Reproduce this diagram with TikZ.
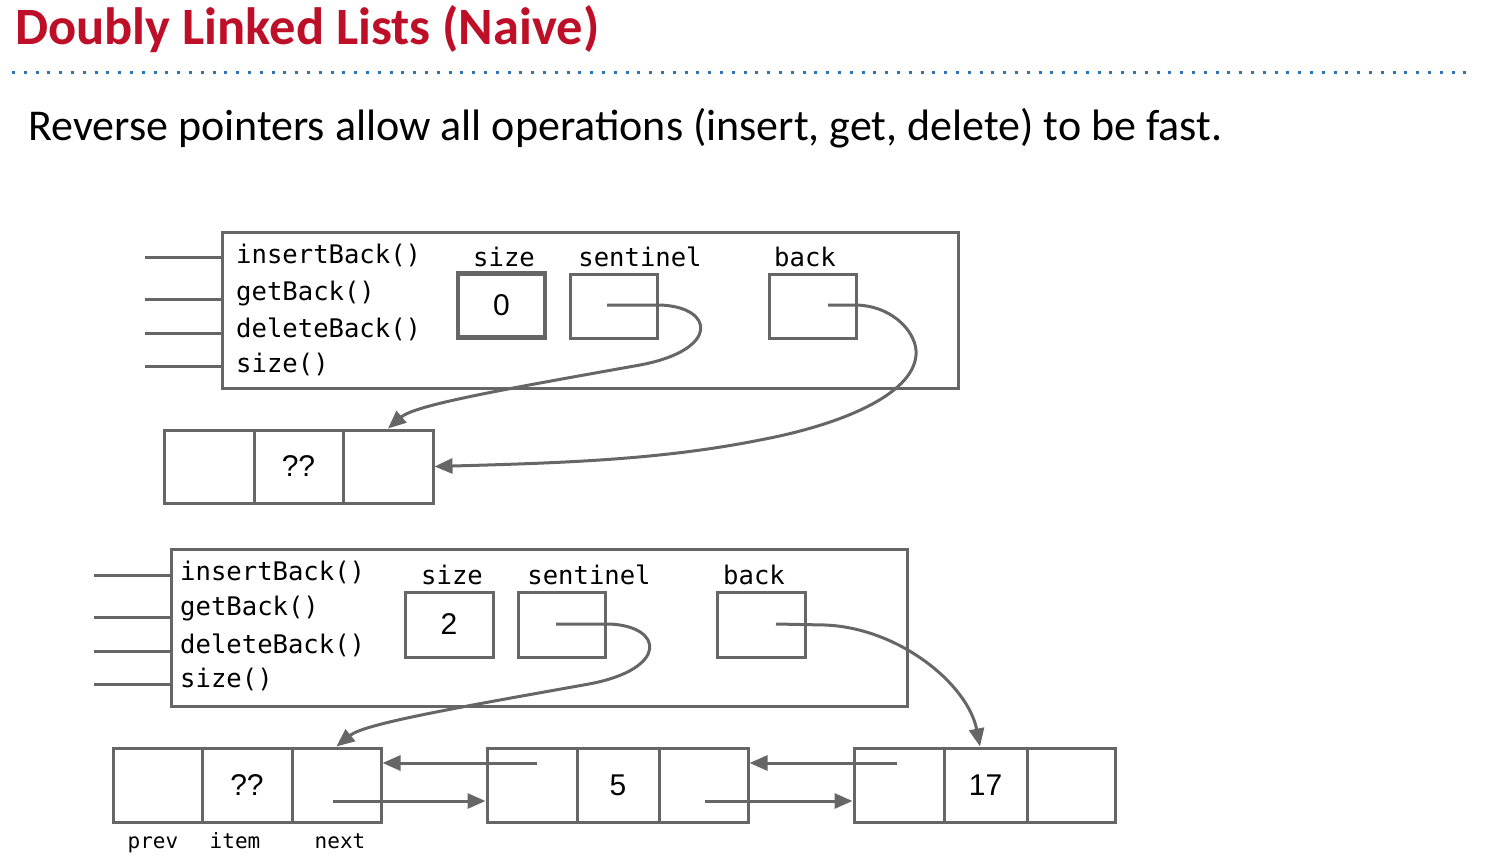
\documentclass[tikz,border=0pt]{standalone}
\usepackage{fontspec}
\setmainfont{Carlito}
\newfontfamily\monofont{DejaVu Sans Mono}
\newfontfamily\arialfont{Liberation Sans}
\usetikzlibrary{arrows.meta}
\definecolor{gr}{HTML}{666666}
\definecolor{titlered}{RGB}{190,15,40}
\definecolor{dotblue}{RGB}{46,117,182}
\tikzset{
  outerbox/.style={draw=gr, line width=3pt, inner sep=0pt},
  fieldbox/.style={draw=gr, line width=3pt, inner sep=0pt, minimum width=87pt, minimum height=64pt,
    font=\arialfont\fontsize{30}{30}\selectfont},
  cell/.style={draw=gr, line width=3pt, inner sep=0pt, minimum height=73pt,
    font=\arialfont\fontsize{30}{30}\selectfont},
  mono/.style={font=\monofont\fontsize{25.6}{25.6}\selectfont, inner sep=0pt, text=black},
  smallmono/.style={font=\monofont\fontsize{21}{21}\selectfont, inner sep=0pt, text=black},
  stub/.style={draw=gr, line width=3pt},
  ptr/.style={draw=gr, line width=3pt, -{Triangle[length=18pt,width=15pt]}},
}
\begin{document}
\begin{tikzpicture}[x=1pt,y=-1pt]
\useasboundingbox (0,0) rectangle (1486,862);

% title and subtitle
\node[anchor=base west, inner sep=0pt, text=titlered, font=\bfseries\fontsize{52.5}{52.5}\selectfont] (title) at (15,44) {Doubly Linked Lists (Naive)};
\coordinate (dl) at (12,72);
\coordinate (dr) at (1472,72);
\draw[dotblue, line width=3pt, dash pattern=on 3pt off 8.8pt] (dl) -- (dr);
\node[anchor=base west, inner sep=0pt, font=\fontsize{44}{44}\selectfont] (sub) at (28,140) {Reverse pointers allow all operations (insert, get, delete) to be fast.};

% ===== top diagram =====
\node[outerbox, minimum width=736pt, minimum height=156pt] (obj1) at (590,310) {};
\foreach \y [count=\i] in {257,299,333,366} {
  \coordinate (s1\i) at (145,\y);
  \draw[stub] (s1\i) -- (obj1.west |- s1\i);
}
\node[mono, anchor=base west] (m11) at (236,263) {insertBack()};
\node[mono, anchor=base west] (m12) at (236,300) {getBack()};
\node[mono, anchor=base west] (m13) at (236,337) {deleteBack()};
\node[mono, anchor=base west] (m14) at (236,372) {size()};
\node[mono, anchor=base] (ls1) at (504,266) {size};
\node[mono, anchor=base] (lt1) at (640,266) {sentinel};
\node[mono, anchor=base] (lb1) at (805,266) {back};
\node[fieldbox, line width=4.5pt] (size1) at (501.5,305.5) {0};
\node[fieldbox] (sent1) at (613.5,306) {};
\node[fieldbox] (back1) at (812.5,306) {};

\node[cell, minimum width=90pt] (t1) at (209,466.5) {};
\node[cell, minimum width=89pt] (t2) at (298.5,466.5) {??};
\node[cell, minimum width=90pt] (t3) at (388,466.5) {};

\coordinate (sp1) at (607,305);
\coordinate (bp1) at (828,305);
\draw[ptr] (sp1) -- (660,305) .. controls (715,307) and (720,350) .. (640,365)
  .. controls (500,390) and (415,405) .. (t3.north);
\draw[ptr] (bp1) -- (856,305) .. controls (895,306) and (918,335) .. (916,355)
  .. controls (913,395) and (840,425) .. (760,440)
  .. controls (660,460) and (560,463) .. (t3.east);

% ===== bottom diagram =====
\node[outerbox, minimum width=736pt, minimum height=157pt] (obj2) at (539,627.5) {};
\foreach \y [count=\i] in {575,617,651,684} {
  \coordinate (s2\i) at (94,\y);
  \draw[stub] (s2\i) -- (obj2.west |- s2\i);
}
\node[mono, anchor=base west] (m21) at (180,580) {insertBack()};
\node[mono, anchor=base west] (m22) at (180,615) {getBack()};
\node[mono, anchor=base west] (m23) at (180,653) {deleteBack()};
\node[mono, anchor=base west] (m24) at (180,687) {size()};
\node[mono, anchor=base] (ls2) at (452,584) {size};
\node[mono, anchor=base] (lt2) at (589,584) {sentinel};
\node[mono, anchor=base] (lb2) at (754,584) {back};
\node[fieldbox, minimum width=88pt, minimum height=65pt] (size2) at (449,624.5) {2};
\node[fieldbox, minimum height=65pt] (sent2) at (561.5,624.5) {};
\node[fieldbox, minimum width=88pt, minimum height=65pt] (back2) at (761,624.5) {};

\node[cell, minimum width=89pt, minimum height=74pt] (a1) at (157.5,785) {};
\node[cell, minimum width=90pt, minimum height=74pt] (a2) at (247,785) {??};
\node[cell, minimum width=89pt, minimum height=74pt] (a3) at (336.5,785) {};
\node[cell, minimum width=90pt, minimum height=74pt] (b1) at (532,785) {};
\node[cell, minimum width=82pt, minimum height=74pt] (b2) at (618,785) {5};
\node[cell, minimum width=89pt, minimum height=74pt] (b3) at (703.5,785) {};
\node[cell, minimum width=90pt, minimum height=74pt] (c1) at (899,785) {};
\node[cell, minimum width=83pt, minimum height=74pt] (c2) at (985.5,785) {17};
\node[cell, minimum width=88pt, minimum height=74pt] (c3) at (1071,785) {};

\node[smallmono, anchor=base] (lprev) at (153,848) {prev};
\node[smallmono, anchor=base] (litem) at (235,848) {item};
\node[smallmono, anchor=base] (lnext) at (340,848) {next};

\coordinate (sp2) at (556,624);
\coordinate (bp2) at (776,624);
\draw[ptr] (sp2) -- (609,624) .. controls (664,626) and (669,669) .. (589,684)
  .. controls (449,709) and (364,724) .. (a3.north);
\draw[ptr] (bp2) -- (825,625) .. controls (900,628) and (968,685) .. (c2.north -| 980,0);

\coordinate (bprev) at (537,763);
\coordinate (anext) at (333,801);
\coordinate (cprev) at (897,763);
\coordinate (bnext) at (705,801);
\draw[ptr] (bprev) -- (a3.east |- bprev);
\draw[ptr] (anext) -- (b1.west |- anext);
\draw[ptr] (cprev) -- (b3.east |- cprev);
\draw[ptr] (bnext) -- (c1.west |- bnext);
\end{tikzpicture}
\end{document}
